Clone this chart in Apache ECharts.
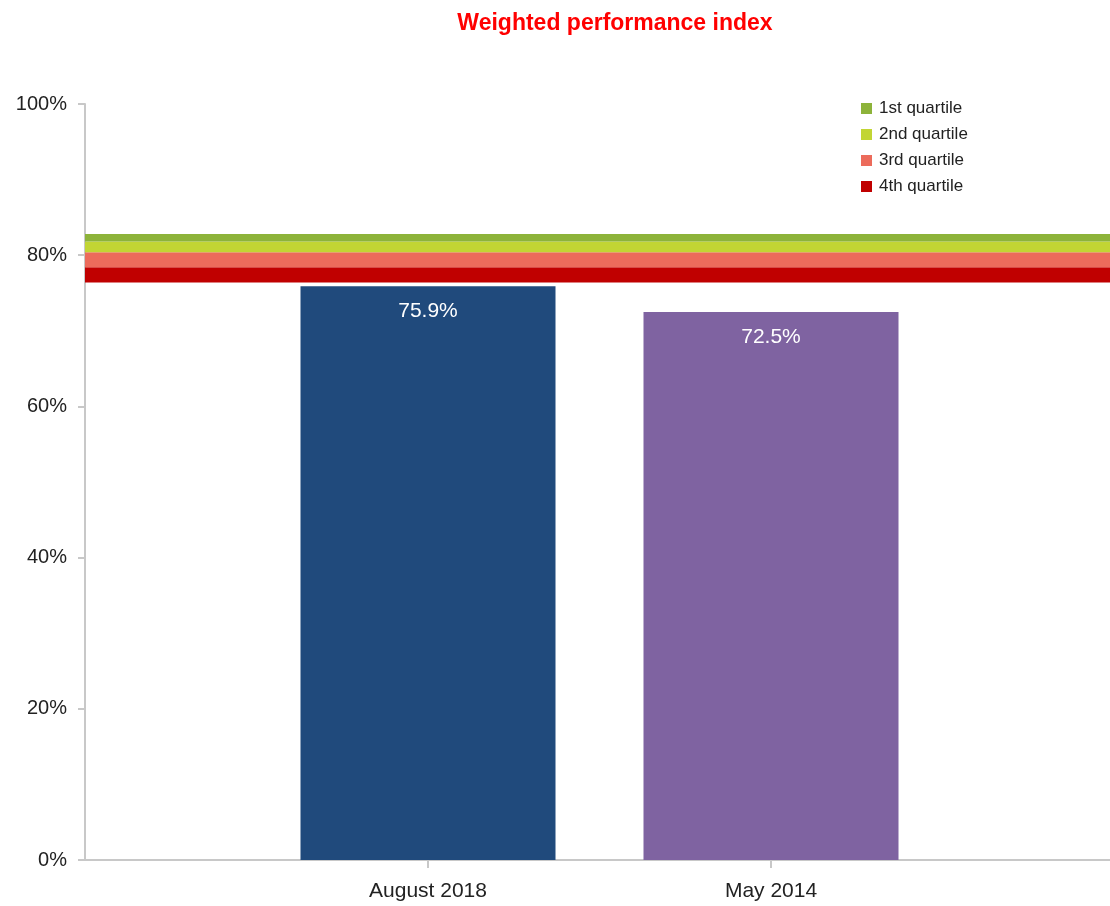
<!DOCTYPE html>
<html>
<head>
<meta charset="utf-8">
<script src="https://cdn.jsdelivr.net/npm/echarts@6/dist/echarts.min.js"></script>
<style>
  html, body { margin: 0; padding: 0; background: #fff; }
  #main { width: 1110px; height: 906px; }
</style>
</head>
<body>
<div id="main"></div>
<script>
var categories = ['', 'August 2018', 'May 2014', ''];
var barValues = [null, 75.9, 72.5, null];
var barColors = ['#204a7c', '#204a7c', '#7f63a1', '#7f63a1'];
// quartile band edges (in %), bottom to top
var bandBase = [76.4, 76.4, 76.4, 76.4];
var q4 = [2.0, 2.0, 2.0, 2.0];
var q3 = [2.0, 2.0, 2.0, 2.0];
var q2 = [1.4, 1.4, 1.4, 1.4];
var q1 = [1.0, 1.0, 1.0, 1.0];
var yTicks = [0, 20, 40, 60, 80, 100];

var font = 'Liberation Sans';
var chart = echarts.init(document.getElementById('main'));

function band(name, data, color) {
  return {
    name: name, type: 'line', stack: 'q', data: data,
    symbol: 'none', lineStyle: { width: 0 },
    areaStyle: { color: color, opacity: 1 }, itemStyle: { color: color },
    silent: true, z: 3
  };
}

var option = {
  animation: false,
  title: {
    text: 'Weighted performance index',
    left: 610, top: 7, textAlign: 'center',
    textStyle: { color: '#ff0000', fontSize: 23, fontWeight: 'bold', fontFamily: font }
  },
  legend: {
    orient: 'vertical', left: 856, top: 95, itemGap: 9,
    itemWidth: 11, itemHeight: 11, icon: 'rect',
    data: ['1st quartile', '2nd quartile', '3rd quartile', '4th quartile'],
    textStyle: { fontSize: 17, color: '#222', fontFamily: font, padding: [0, 0, 0, 2] }
  },
  grid: { left: 85, width: 1029, top: 104, bottom: 46, outerBoundsMode: 'none' },
  xAxis: {
    type: 'category', data: categories, boundaryGap: false,
    axisLine: { lineStyle: { color: '#c8c8c8', width: 2 } },
    axisTick: { length: 8, lineStyle: { color: '#c8c8c8', width: 2 },
      interval: function (i) { return i === 1 || i === 2; } },
    axisLabel: { fontSize: 21, color: '#222', fontFamily: font, margin: 21,
      interval: 0 }
  },
  yAxis: {
    type: 'value', min: yTicks[0], max: yTicks[yTicks.length - 1], interval: 20,
    axisLine: { show: true, lineStyle: { color: '#c8c8c8', width: 2 } },
    axisTick: { show: true, length: 7, lineStyle: { color: '#c8c8c8', width: 2 } },
    splitLine: { show: false },
    axisLabel: { formatter: '{value}%', fontSize: 20, color: '#222', fontFamily: font, margin: 18 }
  },
  series: [
    {
      name: 'base', type: 'line', stack: 'q', data: bandBase,
      symbol: 'none', lineStyle: { width: 0 }, areaStyle: { opacity: 0 }, silent: true
    },
    band('4th quartile', q4, '#c00000'),
    band('3rd quartile', q3, '#ec6b5b'),
    band('2nd quartile', q2, '#c2d534'),
    band('1st quartile', q1, '#8db33a'),
    {
      name: 'index', type: 'bar', barWidth: 255,
      data: barValues.map(function (v, i) {
        return { value: v, itemStyle: { color: barColors[i] } };
      }),
      label: {
        show: true, position: 'insideTop', distance: 15,
        color: '#fff', fontSize: 21, fontFamily: font,
        formatter: function (p) { return p.value.toFixed(1) + '%'; }
      },
      z: 2
    }
  ]
};
chart.setOption(option);
</script>
</body>
</html>
